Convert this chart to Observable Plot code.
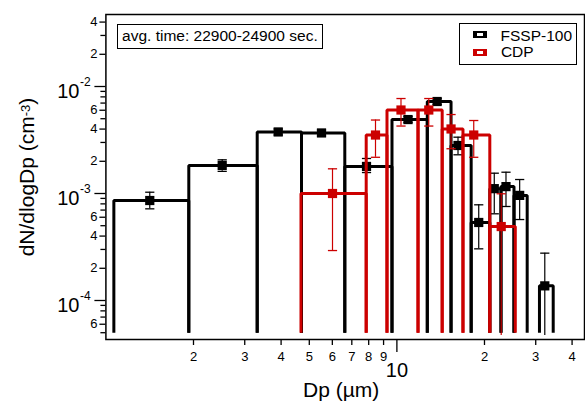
<!DOCTYPE html>
<html><head><meta charset="utf-8">
<script src="https://cdn.jsdelivr.net/npm/d3@7"></script>
<script src="https://cdn.jsdelivr.net/npm/@observablehq/plot@0.6"></script>
<style>
body{margin:0;background:#fff;}
#wrap{position:relative;width:585px;height:403px;font-family:'Liberation Sans',Arial,sans-serif;color:#000;}
.ov{position:absolute;white-space:nowrap;line-height:1;}
.box{position:absolute;box-sizing:border-box;border:1.5px solid #000;background:#fff;}
.sw{position:absolute;box-sizing:border-box;width:14px;height:7px;border-style:solid;border-width:2.5px 4px;background:#fff;}
</style></head><body>
<div id="wrap"></div>
<script>
// ---- data ----
// FSSP-100 bin edges (µm), mid diameters, dN/dlogDp and error limits (cm^-3)
const fsspEdges = [1.065, 1.927, 3.311, 4.701, 6.622, 9.620, 12.72, 15.35, 18.00, 20.86, 22.79, 25.26, 28.04, 30.90, 34.45];
const fsspMid   = [1.415, 2.510, 3.910, 5.507, 7.863, 10.92, 13.75, 16.22, 19.11, 21.61, 23.71, 26.42, 29.47, 32.23];
const fsspVal   = [8.6e-4, 1.83e-3, 3.76e-3, 3.68e-3, 1.79e-3, 4.91e-3, 7.24e-3, 2.81e-3, 5.36e-4, 1.11e-3, 1.16e-3, 9.6e-4, null, 1.37e-4];
const fsspErrLo = [7.19e-4, 1.61e-3, 3.52e-3, 3.45e-3, 1.57e-3, 4.61e-3, 6.79e-3, 2.30e-3, 3.04e-4, 6.46e-4, 7.56e-4, 5.71e-4, null, 4.7e-5];
const fsspErrHi = [1.028e-3, 2.065e-3, 4.01e-3, 3.92e-3, 2.124e-3, 5.24e-3, 7.72e-3, 3.36e-3, 7.84e-4, 1.548e-3, 1.581e-3, 1.351e-3, null, 2.77e-4];
// CDP
const cdpEdges = [4.682, 7.844, 9.247, 11.82, 14.31, 16.87, 20.86, 25.52];
const cdpMid   = [6.008, 8.443, 10.33, 12.87, 15.35, 18.37, 22.83];
const cdpVal   = [1.0e-3, 3.52e-3, 6.03e-3, 6.03e-3, 4.01e-3, 3.52e-3, 4.91e-4];
const cdpErrLo = [2.93e-4, 2.18e-3, 4.27e-3, 4.27e-3, 2.62e-3, 2.18e-3, 4.7e-5];
const cdpErrHi = [1.701e-3, 4.86e-3, 7.72e-3, 7.72e-3, 5.47e-3, 4.81e-3, 9.94e-4];
// axis ticks
const xTicks = [2, 3, 4, 5, 6, 7, 8, 9, 20, 30, 40];
const xMajor = [10];
const yDecades = [1e-4, 1e-3, 1e-2];
const yLabeled = [6e-5, 2e-4, 4e-4, 6e-4, 2e-3, 4e-3, 6e-3, 2e-2, 4e-2];
const yMinor = [5e-5, 7e-5, 8e-5, 9e-5, 3e-4, 5e-4, 7e-4, 8e-4, 9e-4, 3e-3, 5e-3, 7e-3, 8e-3, 9e-3, 3e-2];
const BASE = 5e-5;           // bar baseline
const X_DOMAIN = [1, 44.13];
const Y_DOMAIN = [4.32e-5, 0.04709];

const RED = "#cc0000";
const cap = {draw(ctx, size) { const r = Math.sqrt(size / Math.PI); ctx.moveTo(-r, 0); ctx.lineTo(r, 0); }};

function steps(edges, vals) {
  const out = [];
  vals.forEach((v, i) => {
    if (v == null) return;
    out.push({x: edges[i], y: BASE, bin: i}, {x: edges[i], y: v, bin: i},
             {x: edges[i + 1], y: v, bin: i}, {x: edges[i + 1], y: BASE, bin: i});
  });
  return out;
}
function series(edges, mid, vals, lo, hi, color) {
  const pts = vals.map((v, i) => ({x: mid[i], y: v, lo: lo[i], hi: hi[i]})).filter(d => d.y != null);
  return [
    Plot.line(steps(edges, vals), {x: "x", y: "y", z: "bin", stroke: color, strokeWidth: 3, strokeLinejoin: "miter", strokeLinecap: "butt"}),
    Plot.ruleX(pts, {x: "x", y1: "lo", y2: "hi", stroke: color, strokeWidth: 1.2}),
    Plot.dot(pts, {x: "x", y: "hi", symbol: cap, r: 4.6, stroke: color, strokeWidth: 1.3, fill: "none"}),
    Plot.dot(pts.filter(d => d.lo >= BASE), {x: "x", y: "lo", symbol: cap, r: 4.6, stroke: color, strokeWidth: 1.3, fill: "none"}),
    Plot.dot(pts, {x: "x", y: "y", symbol: "square", r: 5.2, fill: color, stroke: "none"})
  ];
}

const digit = d => String(Math.round(d / Math.pow(10, Math.floor(Math.log10(d) + 1e-9))));
const xFmt = d => String(d < 10 ? d : d / 10);

const chart = Plot.plot({
  width: 585, height: 403,
  marginLeft: 105.4, marginRight: 1, marginTop: 14, marginBottom: 64,
  style: {fontFamily: "'Liberation Sans', Arial, sans-serif", background: "white", color: "black", overflow: "visible"},
  x: {type: "log", domain: X_DOMAIN, label: null},
  y: {type: "log", domain: Y_DOMAIN, label: null},
  marks: [
    ...series(fsspEdges, fsspMid, fsspVal, fsspErrLo, fsspErrHi, "black"),
    ...series(cdpEdges, cdpMid, cdpVal, cdpErrLo, cdpErrHi, RED),
    // x axis ticks + labels
    Plot.axisX({ticks: xTicks, tickSize: 6, strokeWidth: 1.3, fill: "none", label: null}),
    Plot.axisX({ticks: xMajor, tickSize: 13, strokeWidth: 1.3, fill: "none", label: null}),
    Plot.text(xTicks, {x: d => d, frameAnchor: "bottom", text: xFmt, lineAnchor: "top", dy: 12.7, fontSize: 13}),
    Plot.text(xMajor, {x: d => d, frameAnchor: "bottom", text: d => String(d), lineAnchor: "top", dy: 23.5, fontSize: 20}),
    // y axis ticks + labels
    Plot.axisY({ticks: yLabeled, tickSize: 6, strokeWidth: 1.3, fill: "none", label: null}),
    Plot.axisY({ticks: yMinor, tickSize: 5, strokeWidth: 1.3, fill: "none", label: null}),
    Plot.axisY({ticks: yDecades, tickSize: 11, strokeWidth: 1.3, fill: "none", label: null}),
    Plot.text(yLabeled, {y: d => d, frameAnchor: "left", text: digit, textAnchor: "end", dx: -8.5, fontSize: 13}),
    Plot.text(yDecades, {y: d => d, frameAnchor: "left", text: () => "10", textAnchor: "end", dx: -26.5, dy: 5, fontSize: 20}),
    Plot.text(yDecades, {y: d => d, frameAnchor: "left", text: d => String(Math.round(Math.log10(d))), textAnchor: "start", dx: -26, dy: -4, fontSize: 12}),
    // x title
    Plot.text(["Dp (µm)"], {frameAnchor: "bottom", text: d => d, dx: -4, dy: 57.5, lineAnchor: "bottom", fontSize: 21}),
    Plot.frame({stroke: "black", strokeWidth: 1.5})
  ]
});

const wrap = document.getElementById("wrap");
chart.style.display = "block";
wrap.appendChild(chart);

function add(html, cls, css) {
  const el = document.createElement("div");
  el.className = cls;
  el.innerHTML = html;
  Object.assign(el.style, css);
  wrap.appendChild(el);
  return el;
}
// y title (with superscript)
add('dN/dlogDp (cm<span style="font-size:13px;position:relative;top:-4.5px">-3</span>)', "ov",
    {left: "15.5px", top: "176.5px", fontSize: "21px", transformOrigin: "0 0", transform: "rotate(-90deg) translateX(-50%)"});
// annotation box
add("", "box", {left: "117.3px", top: "24px", width: "205.4px", height: "25.3px"});
add("avg. time: 22900-24900 sec.", "ov", {left: "122.1px", top: "27.9px", fontSize: "15.5px"});
// legend
add("", "box", {left: "459px", top: "22.7px", width: "118.3px", height: "42.6px"});
add("", "sw", {left: "473px", top: "31px", borderColor: "black"});
add("", "sw", {left: "473px", top: "49px", borderColor: RED});
add("FSSP-100", "ov", {left: "500.5px", top: "27.6px", fontSize: "15.5px"});
add("CDP", "ov", {left: "500.9px", top: "44.2px", fontSize: "15.5px"});
</script>
</body></html>
